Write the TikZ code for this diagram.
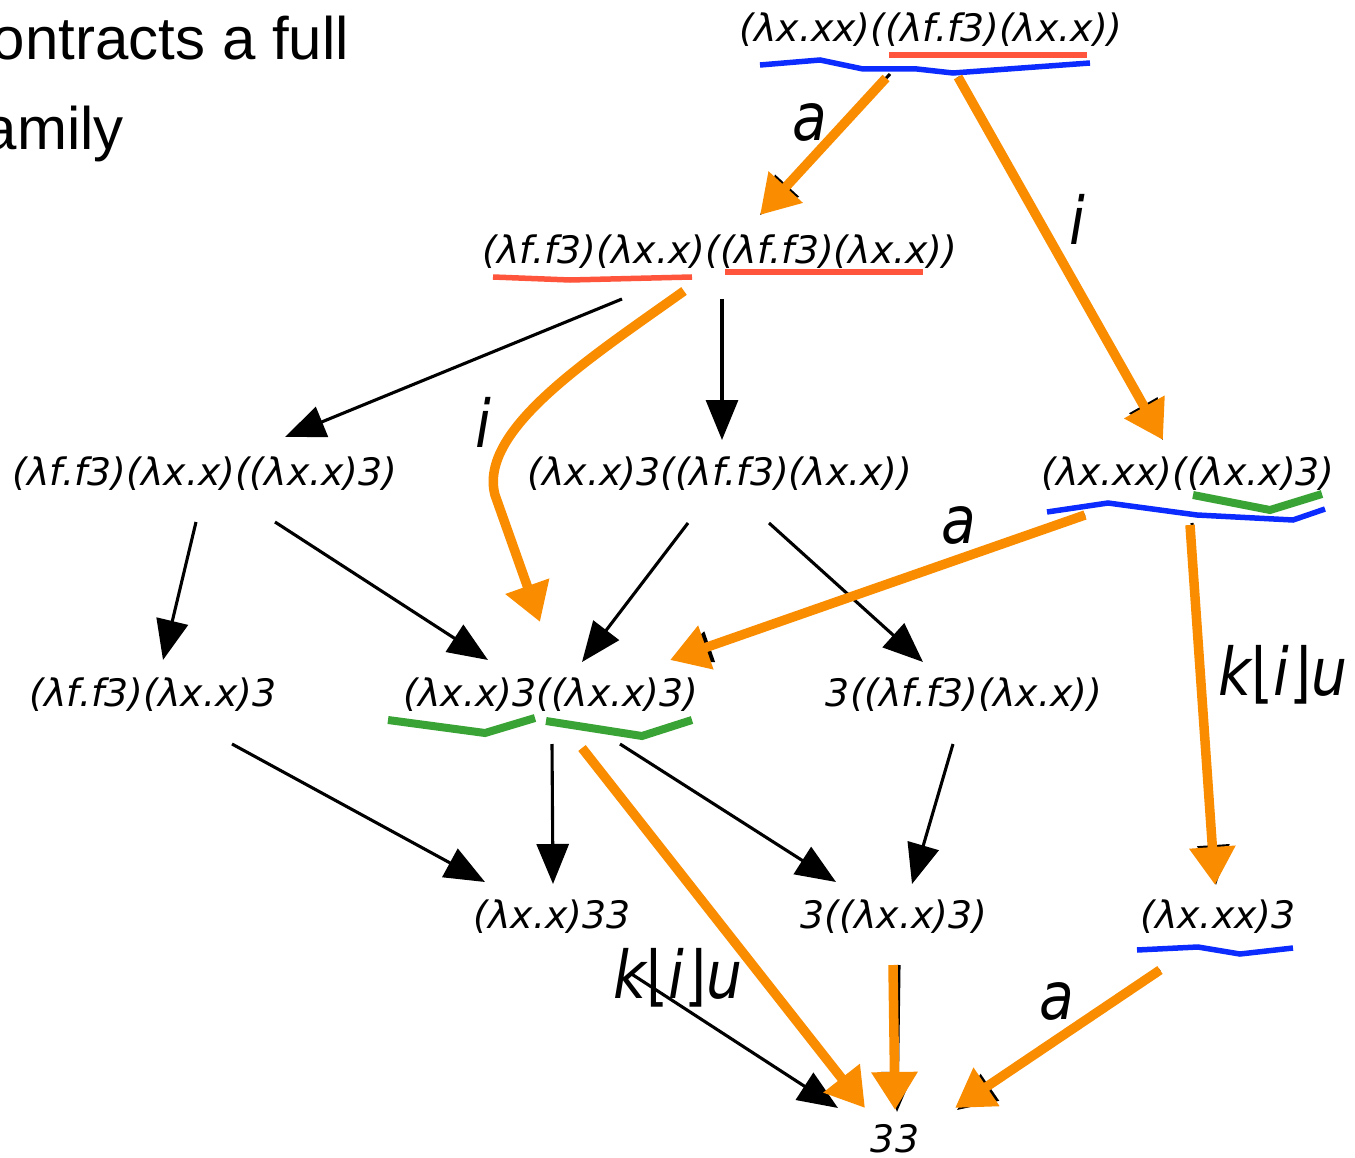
\documentclass[tikz,border=0pt]{standalone}
\usepackage{fontspec}
\usepackage{graphicx}
\setmainfont{DejaVu Sans}
\newfontfamily\arialf{Liberation Sans}
\usetikzlibrary{arrows.meta}
\definecolor{orgC}{RGB}{250,140,0}
\definecolor{redC}{RGB}{255,85,60}
\definecolor{bluC}{RGB}{12,44,255}
\definecolor{grnC}{RGB}{58,163,53}
\tikzset{
  term/.style={font=\fontsize{37.8}{44}\selectfont\itshape, inner sep=0pt},
  lbl/.style={font=\fontsize{66}{78}\selectfont\itshape, inner sep=0pt},
  tl/.style={font=\fontsize{60}{72}\selectfont\arialf, inner sep=0pt},
  blk/.style={line width=3.1pt, draw=black, -{Triangle[length=40pt,width=32pt]}},
  org/.style={line width=9.5pt, draw=orgC, -{Triangle[length=38pt,width=44pt]}},
  redU/.style={line width=5.5pt, draw=redC},
  bluU/.style={line width=5.5pt, draw=bluC},
  grnU/.style={line width=8pt, draw=grnC}
}
\newcommand{\sq}[1]{\scalebox{0.86}[1]{#1}}
\newcommand{\kiu}{\sq{k{\upshape ⌊}i{\upshape ⌋}u}}
\begin{document}
\begin{tikzpicture}[x=1pt,y=-1pt]
\useasboundingbox (0,0) rectangle (1355,1158);
\clip (0,0) rectangle (1355,1158);

% top-left text
\node[tl, anchor=base east] (t1) at (349,60) {ontracts a full};
\node[tl, anchor=base east] (t2) at (124,150) {amily};

% terms
\node[term] (n1) at (931,30) {(λx.xx)((λf.f3)(λx.x))};
\node[term] (n2) at (720,252) {(λf.f3)(λx.x)((λf.f3)(λx.x))};
\node[term] (n3) at (205,474) {(λf.f3)(λx.x)((λx.x)3)};
\node[term] (n4) at (720,474) {(λx.x)3((λf.f3)(λx.x))};
\node[term] (n5) at (1188,474) {(λx.xx)((λx.x)3)};
\node[term] (n6) at (153,695) {(λf.f3)(λx.x)3};
\node[term] (n7) at (551,695) {(λx.x)3((λx.x)3)};
\node[term] (n8) at (964,695) {3((λf.f3)(λx.x))};
\node[term] (n9) at (552,917) {(λx.x)33};
\node[term] (n10) at (894,917) {3((λx.x)3)};
\node[term] (n11) at (1218,917) {(λx.xx)3};
\node[term] (n12) at (895,1139) {33};

% underlines
\draw[redU] (889,55) -- (1087,55);
\draw[bluU] (760,65) -- (820,60) -- (863,69) -- (917,69) -- (953,73) -- (1090,63);
\draw[redU] (493,277) -- (570,280) -- (692,277);
\draw[redU] (725,272) -- (923,272);
\draw[grnU] (1193,495) -- (1270,510) -- (1322,494);
\draw[bluU] (1047,512) -- (1108,503) -- (1197,515) -- (1293,520) -- (1325,509);
\draw[grnU] (388,720) -- (485,733) -- (535,718);
\draw[grnU] (546,721) -- (642,736) -- (692,720);
\draw[bluU] (1137,950) -- (1198,947) -- (1240,954) -- (1293,948);

% black edges
\draw[blk] ([shift={(-98,47)}]n2.center) -- ([shift={(80,-37)}]n3.center);
\draw[blk] ([shift={(2,47)}]n2.center) -- ([shift={(2,-34)}]n4.center);
\draw[blk] ([shift={(-9,48)}]n3.center) -- ([shift={(10,-35)}]n6.center);
\draw[blk] ([shift={(70,48)}]n3.center) -- ([shift={(-63,-35)}]n7.center);
\draw[blk] ([shift={(-32,49)}]n4.center) -- ([shift={(31,-33)}]n7.center);
\draw[blk] ([shift={(49,49)}]n4.center) -- ([shift={(-41,-33)}]n8.center);
\draw[blk] ([shift={(79,49)}]n6.center) -- ([shift={(-67,-35)}]n9.center);
\draw[blk] ([shift={(1,49)}]n7.center) -- ([shift={(1,-33)}]n9.center);
\draw[blk] ([shift={(69,49)}]n7.center) -- ([shift={(-58,-35)}]n10.center);
\draw[blk] ([shift={(-11,49)}]n8.center) -- ([shift={(18,-33)}]n10.center);
\draw[blk] ([shift={(78,56)}]n9.center) -- ([shift={(-57,-31)}]n12.center);
% black edges under orange ones
\draw[blk] ([shift={(-41,44)}]n1.center) -- ([shift={(40,-37)}]n2.center);
\draw[blk] ([shift={(27,47)}]n1.center) -- ([shift={(-25,-34)}]n5.center);
\draw[blk] ([shift={(-103,41)}]n5.center) -- ([shift={(121,-35)}]n7.center);
\draw[blk] ([shift={(4,49)}]n5.center) -- ([shift={(-2,-32)}]n11.center);
\draw[blk] ([shift={(5,48)}]n10.center) -- ([shift={(2,-27)}]n12.center);
\draw[blk] ([shift={(-58,53)}]n11.center) -- ([shift={(62,-29)}]n12.center);

% orange edges
\draw[org] ([shift={(-45,48)}]n1.center) -- ([shift={(40,-37)}]n2.center);
\draw[org] ([shift={(27,47)}]n1.center) -- ([shift={(-25,-34)}]n5.center);
\draw[org] ([shift={(-36,39)}]n2.center) .. controls (590,358) and (478,430) .. (495,495) -- ([shift={(-11,-73)}]n7.center);
\draw[org] ([shift={(-103,41)}]n5.center) -- ([shift={(119,-35)}]n7.center);
\draw[org] ([shift={(2,51)}]n5.center) -- ([shift={(-3,-32)}]n11.center);
\draw[org] ([shift={(31,53)}]n7.center) -- ([shift={(-30,-31)}]n12.center);
\draw[org] ([shift={(-1,48)}]n10.center) -- ([shift={(0,-29)}]n12.center);
\draw[org] ([shift={(-58,53)}]n11.center) -- ([shift={(60,-31)}]n12.center);

% labels
\node[lbl] (la1) at (810,122) {\sq{a}};
\node[lbl] (li1) at (1077,219) {\sq{i}};
\node[lbl] (li2) at (483,422) {\sq{i}};
\node[lbl] (la2) at (959,525) {\sq{a}};
\node[lbl] (lk1) at (1283,675) {\kiu};
\node[lbl] (lk2) at (678,978) {\kiu};
\node[lbl] (la3) at (1057,1001) {\sq{a}};
\end{tikzpicture}
\end{document}
